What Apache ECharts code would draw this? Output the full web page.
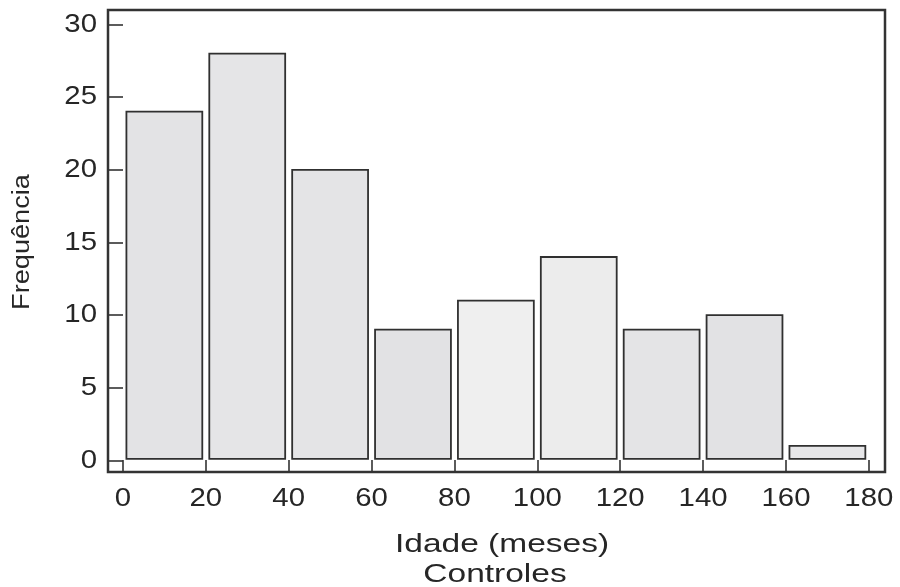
<!DOCTYPE html>
<html>
<head>
<meta charset="utf-8">
<script src="https://cdn.jsdelivr.net/npm/echarts@6/dist/echarts.min.js"></script>
<style>
  html, body { margin: 0; padding: 0; background: #fff; }
  #chart { width: 900px; height: 587px; }
</style>
</head>
<body>
<div id="chart"></div>
<script>
// Age histogram (months), control group
const binStart = [0, 20, 40, 60, 80, 100, 120, 140, 160];
const binWidth = 20;
const frequency = [24, 28, 20, 9, 11, 14, 9, 10, 1];
const xTicks = [0, 20, 40, 60, 80, 100, 120, 140, 160, 180];
const yTicks = [0, 5, 10, 15, 20, 25, 30];
const xTitle = 'Idade (meses)';
const groupTitle = 'Controles';
const yTitle = 'Frequência';

const barFill = ['#e3e3e5', '#e5e5e7', '#e4e4e6', '#e2e2e4', '#efefef', '#ececec', '#e4e4e6', '#e2e2e4', '#e6e6e8'];

const family = '"Liberation Sans", Arial, sans-serif';
const ink = '#262626';
const frame = '#333333';

const chart = echarts.init(document.getElementById('chart'), null, { renderer: 'canvas' });

chart.setOption({
  animation: false,
  backgroundColor: '#ffffff',
  grid: {
    left: 108, right: 15, top: 10, bottom: 115,
    outerBoundsMode: 'none',
    containLabel: false,
    show: true, borderColor: frame, borderWidth: 2.5, backgroundColor: 'transparent'
  },
  xAxis: {
    type: 'value',
    min: -3.6, max: 183.9,
    axisLine: { show: false, onZero: false },
    splitLine: { show: false },
    axisTick: {
      show: true, inside: true, length: 12, customValues: xTicks,
      lineStyle: { color: frame, width: 1.6 }
    },
    axisLabel: { show: false }
  },
  yAxis: {
    type: 'value',
    min: -0.8, max: 31,
    axisLine: { show: false, onZero: false },
    splitLine: { show: false },
    axisTick: {
      show: true, inside: true, length: 15, customValues: yTicks,
      lineStyle: { color: frame, width: 1.6 }
    },
    axisLabel: { show: false }
  },
  series: [{
    type: 'custom',
    data: binStart.map((s, i) => [s, s + binWidth, frequency[i]]),
    encode: { x: [0, 1], y: 2 },
    renderItem: function (params, api) {
      const p0 = api.coord([api.value(0), 0]);
      const p1 = api.coord([api.value(1), api.value(2)]);
      const inset = 3.5;
      const bottom = p0[1] - 1.5;
      return {
        type: 'rect',
        shape: {
          x: p0[0] + inset,
          y: p1[1],
          width: p1[0] - p0[0] - 2 * inset,
          height: bottom - p1[1]
        },
        style: {
          fill: barFill[params.dataIndex],
          stroke: '#303030',
          lineWidth: 1.8
        }
      };
    }
  }]
});

// Text is drawn as graphic elements so the glyphs can be widened a little.
function label(text, x, y, opts) {
  return {
    type: 'text',
    x: x, y: y,
    scaleX: opts.scaleX || 1,
    rotation: opts.rotation || 0,
    silent: true,
    style: {
      text: text,
      font: (opts.size || 26) + 'px ' + family,
      fill: ink,
      align: opts.align || 'center',
      verticalAlign: 'middle'
    }
  };
}

const texts = [];
const gridRect = chart.getModel().getComponent('grid', 0).coordinateSystem.getRect();
const axisLeft = gridRect.x;
const axisBottom = gridRect.y + gridRect.height;

yTicks.forEach(v => {
  const p = chart.convertToPixel({ gridIndex: 0 }, [0, v]);
  texts.push(label(String(v), axisLeft - 11, p[1], { align: 'right', scaleX: 1.13 }));
});
xTicks.forEach(v => {
  const p = chart.convertToPixel({ gridIndex: 0 }, [v, 0]);
  texts.push(label(String(v), p[0], axisBottom + 27, { scaleX: 1.13 }));
});
texts.push(label(xTitle, 502, 545, { size: 25, scaleX: 1.34 }));
texts.push(label(groupTitle, 495, 575, { size: 25, scaleX: 1.34 }));
texts.push(label(yTitle, 23, 242, { size: 23, scaleX: 1.18, rotation: Math.PI / 2 }));

chart.setOption({ graphic: texts });
</script>
</body>
</html>
